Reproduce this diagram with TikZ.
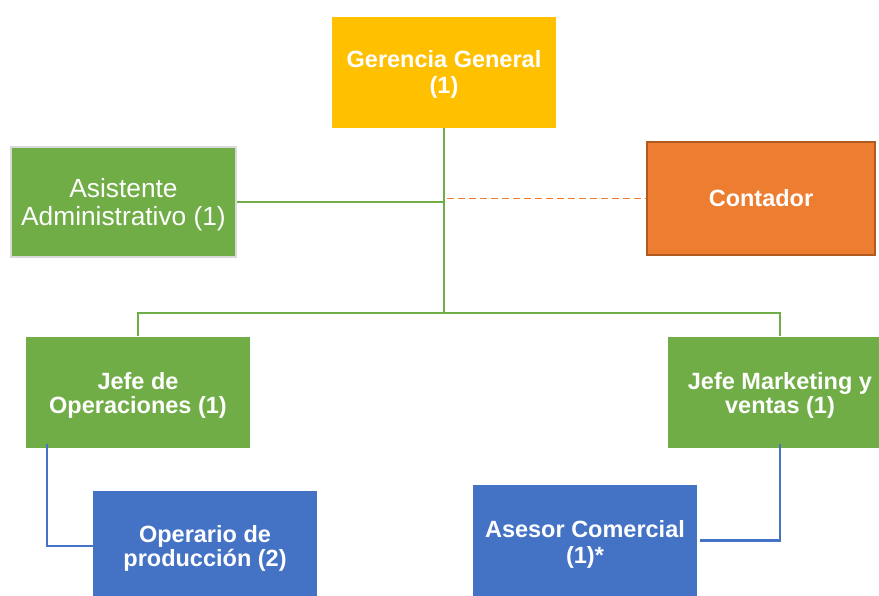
\documentclass[tikz,border=0pt]{standalone}
\usepackage{fontspec}
\setmainfont{Liberation Sans}
\definecolor{cgold}{HTML}{FFC000}
\definecolor{cgreen}{HTML}{70AD47}
\definecolor{corange}{HTML}{ED7D31}
\definecolor{corangedark}{HTML}{AE5A21}
\definecolor{cblue}{HTML}{4472C4}
\definecolor{cgray}{HTML}{D9D9D9}
\newcommand\tup[1]{\rule{0pt}{#1pt}}
\begin{document}
\begin{tikzpicture}[x=1pt,y=-1pt,
  box/.style={rectangle, minimum width=224pt, minimum height=111pt, inner sep=0pt,
    text=white, align=center, font=\fontsize{23.5}{24}\selectfont\bfseries},
  wide/.style={font=\fontsize{23.5}{26}\selectfont\bfseries},
  goldbox/.style={box, fill=cgold},
  greenbox/.style={box, fill=cgreen},
  bluebox/.style={box, fill=cblue},
  asibox/.style={box, fill=cgreen, draw=cgray, line width=2.5pt, minimum width=225pt, minimum height=110pt,
    font=\fontsize{26.3}{27.5}\selectfont},
  conbox/.style={box, fill=corange, draw=corangedark, line width=2pt, minimum width=228pt, minimum height=113pt},
  gline/.style={draw=cgreen, line width=2.5pt},
  bline/.style={draw=cblue, line width=2.3pt},
  dline/.style={draw=corange, line width=1.8pt, dash pattern=on 7pt off 4pt}]
\useasboundingbox (0,0) rectangle (879,595);
\clip (0,0) rectangle (879,595);
\node[goldbox, wide] (ger) at (444,72.5) {\tup{21}Gerencia General\\(1)};
\node[asibox] (asi) at (123.5,202) {\tup{24}Asistente\\Administrativo (1)};
\node[conbox] (con) at (761,198.5) {Contador};
\node[greenbox] (ops) at (138,392) {\tup{24}Jefe de\\Operaciones (1)};
\node[greenbox] (mkt) at (780,392) {\tup{24}Jefe Marketing y\\ventas (1)};
\node[bluebox] (opr) at (205,546) {\tup{21}Operario de\\producción (2)};
\node[bluebox, wide] (ase) at (585,540.5) {\tup{25}Asesor Comercial\\(1)*};
\coordinate (j) at (444,313);
\coordinate (opsdrop) at ([xshift=-91pt,yshift=4pt]ops.south);
\coordinate (mktdrop) at ([yshift=4pt]mkt.south);
\draw[gline] (ger.south) -- (j);
\draw[gline] (asi.east) -- (asi.east -| ger.south);
\draw[dline] ([xshift=3pt]con.west -| ger.south) -- (con.west);
\draw[gline] (ops.north) |- (j) -| (mkt.north);
\draw[bline] (opsdrop) |- (opr.west);
\draw[bline] (mktdrop) |- ([xshift=3pt]ase.east);
\end{tikzpicture}
\end{document}
